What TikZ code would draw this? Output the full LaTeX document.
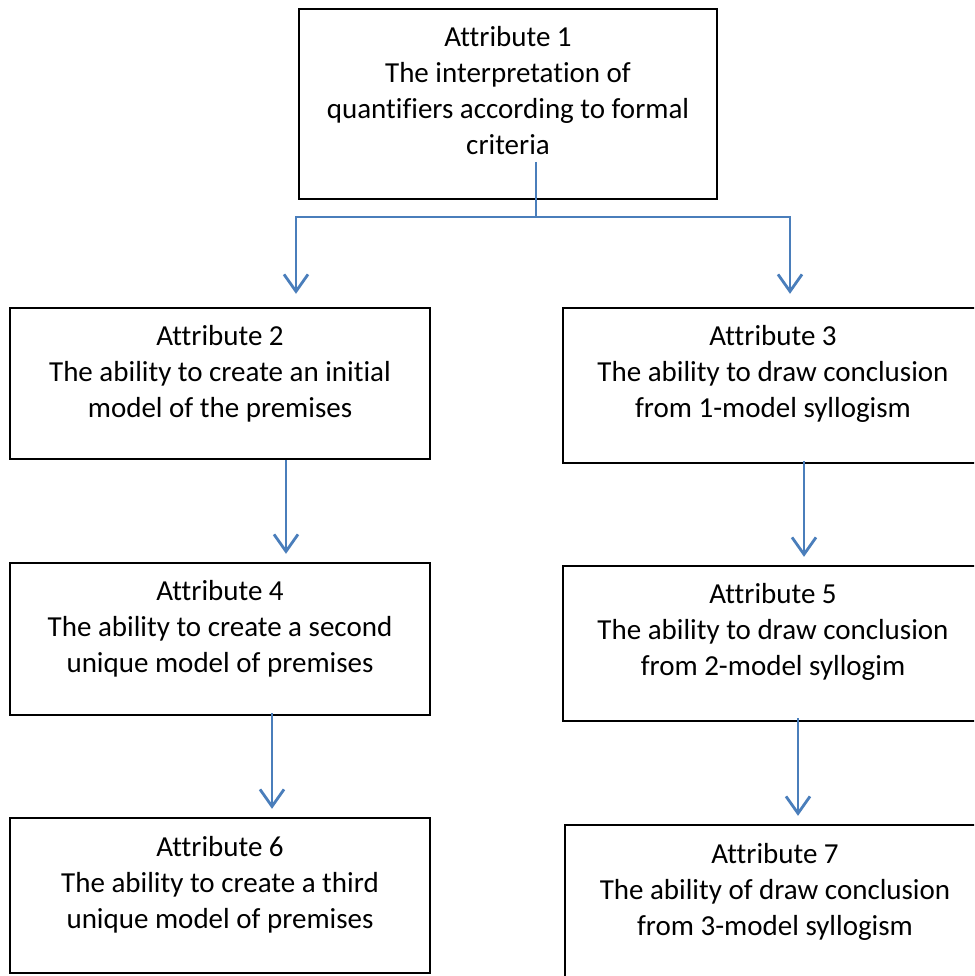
\documentclass[tikz,border=0pt]{standalone}
\usepackage{fontspec}
\setmainfont{Carlito}[Ligatures={NoCommon}]
\usetikzlibrary{arrows.meta,calc}
\definecolor{arrblue}{HTML}{4A7EBB}
\begin{document}
\begin{tikzpicture}[x=1pt,y=-1pt,
  box/.style={draw=black,line width=2.4pt,inner sep=0pt,minimum width=420pt,minimum height=155pt},
  txt/.style={anchor=north,align=center,inner sep=0pt,font=\fontsize{29pt}{36pt}\selectfont},
  conn/.style={draw=arrblue,line width=2.8pt,-{Straight Barb[length=17pt,width=24pt]}}]
\useasboundingbox (0,0) rectangle (974,976);
\clip (0,0) rectangle (974,976);
\fill[white] (0,0) rectangle (974,976);
% boxes
\node[box,minimum width=418pt,minimum height=190pt] (b1) at (508,104) {};
\node[box,minimum height=151pt] (b2) at (220,383.5) {};
\node[box] (b3) at (773,385.5) {};
\node[box,minimum height=152pt] (b4) at (220,639) {};
\node[box] (b5) at (773,643.5) {};
\node[box] (b6) at (220,895.5) {};
\node[box] (b7) at (775,902.5) {};
% texts
\node[txt] (t1) at ($(b1.north)+(0,18)$) {Attribute 1\\The interpretation of\\quantifiers according to formal\\criteria};
\node[txt] (t2) at ($(b2.north)+(0,18)$) {Attribute 2\\The ability to create an initial\\model of the premises};
\node[txt] (t3) at ($(b3.north)+(0,18)$) {Attribute 3\\The ability to draw conclusion\\from 1-model syllogism};
\node[txt] (t4) at ($(b4.north)+(0,18)$) {Attribute 4\\The ability to create a second\\unique model of premises};
\node[txt] (t5) at ($(b5.north)+(0,18)$) {Attribute 5\\The ability to draw conclusion\\from 2-model syllogim};
\node[txt] (t6) at ($(b6.north)+(0,19)$) {Attribute 6\\The ability to create a third\\unique model of premises};
\node[txt] (t7) at ($(b7.north)+(0,19)$) {Attribute 7\\The ability of draw conclusion\\from 3-model syllogism};
% connectors
\coordinate (s1) at (536,162);
\coordinate (j1) at (536,217);
\draw[draw=arrblue,line width=2.8pt] (s1) -- (j1);
\draw[conn,shorten >=13pt] (j1) -| ($(b2.north)+(76,0)$);
\draw[conn,shorten >=13pt] (j1) -| ($(b3.north)+(17,0)$);
\draw[conn,shorten >=8pt] ($(b2.south)+(66,0)$) -- ($(b4.north)+(66,0)$);
\draw[conn,shorten <=-3pt,shorten >=8pt] ($(b3.south)+(31,0)$) -- ($(b5.north)+(31,0)$);
\draw[conn,shorten <=-3pt,shorten >=8pt] ($(b4.south)+(52,0)$) -- ($(b6.north)+(52,0)$);
\draw[conn,shorten <=-4pt,shorten >=8pt] ($(b5.south)+(25,0)$) -- ($(b7.north)+(23,0)$);
\end{tikzpicture}
\end{document}
